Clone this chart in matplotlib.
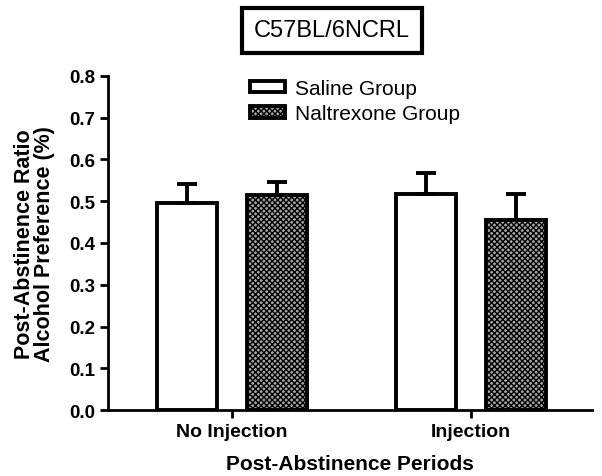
import matplotlib.pyplot as plt
import numpy as np

periods = ["No Injection", "Injection"]
saline_mean = [0.495, 0.517]
saline_sem = [0.045, 0.050]
naltrexone_mean = [0.515, 0.455]
naltrexone_sem = [0.030, 0.062]
yticks = [0.0, 0.1, 0.2, 0.3, 0.4, 0.5, 0.6, 0.7, 0.8]

plt.rcParams['font.family'] = ['Liberation Sans', 'DejaVu Sans']
plt.rcParams['hatch.linewidth'] = 1.0

fig = plt.figure(figsize=(6.02, 4.77), dpi=100)
ax = fig.add_axes([0.179, 0.138, 0.804, 0.701])

x = np.arange(len(periods))
w = 0.251
off = 0.188

ax.bar(x - off, saline_mean, w, color='white', edgecolor='black', linewidth=2.8,
       yerr=[np.zeros(2), saline_sem], error_kw=dict(ecolor='black', elinewidth=2.8, capsize=7, capthick=2.8),
       label='Saline Group', zorder=3)
ax.bar(x + off, naltrexone_mean, w, color='#a8a8a8', edgecolor='black', linewidth=2.8,
       hatch='xxxxxx', yerr=[np.zeros(2), naltrexone_sem],
       error_kw=dict(ecolor='black', elinewidth=2.8, capsize=7, capthick=2.8),
       label='Naltrexone Group', zorder=3)

ax.set_xlim(-0.519, 1.506)
ax.set_ylim(0, 0.8)
ax.set_yticks(yticks)
ax.set_yticklabels([f"{t:.1f}" for t in yticks], fontweight='bold', fontsize=13.5)
ax.set_xticks(x)
ax.set_xticklabels(periods, fontweight='bold', fontsize=14)
ax.spines['top'].set_visible(False)
ax.spines['right'].set_visible(False)
ax.spines['left'].set_linewidth(2)
ax.spines['bottom'].set_linewidth(2)
ax.tick_params(width=2, length=6, pad=3)

ax.set_xlabel("Post-Abstinence Periods", fontweight='bold', fontsize=15, labelpad=10)
ax.set_ylabel("Post-Abstinence Ratio\nAlcohol Preference (%)", fontweight='bold', fontsize=15.5,
              labelpad=10, linespacing=0.95)

ax.legend(loc='upper left', bbox_to_anchor=(0.293, 0.99), frameon=False, fontsize=15,
          borderpad=0, borderaxespad=0,
          handlelength=1.7, handleheight=0.45, handletextpad=0.5, labelspacing=0.3)

fig.text(0.551, 0.934, "C57BL/6NCRL", ha='center', va='center', fontsize=17,
         bbox=dict(boxstyle='square,pad=0.5', facecolor='white', edgecolor='black', linewidth=3))

fig.savefig("out.png", dpi=100)
